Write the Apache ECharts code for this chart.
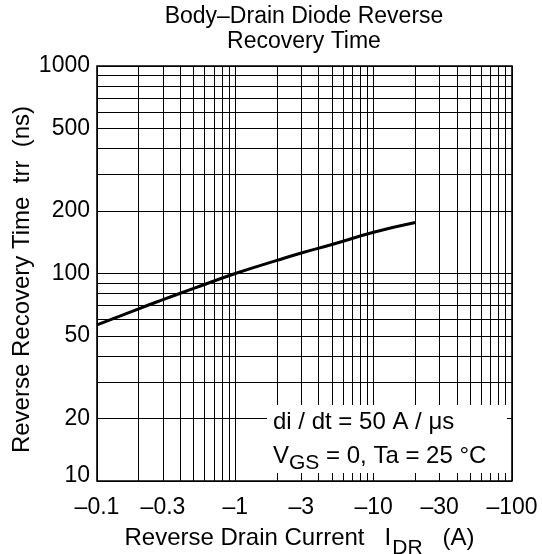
<!DOCTYPE html>
<html>
<head>
<meta charset="utf-8">
<script src="https://cdn.jsdelivr.net/npm/echarts@6/dist/echarts.min.js"></script>
<style>
  html, body { margin: 0; padding: 0; background: #fff; }
  #chart { width: 542px; height: 554px; }
</style>
</head>
<body>
<div id="chart"></div>
<script>
// Body–drain diode reverse recovery time vs. reverse drain current
const currentA = [-0.1, -0.2, -0.3, -0.5, -1, -2, -3, -5, -10, -20];
const trrNs = [56.5, 67.6, 74.8, 84.7, 100, 115.7, 125.6, 138, 158, 176];

// Labelled ticks
const xTickValues = [-0.1, -0.3, -1, -3, -10, -30, -100];
const xTickLabels = ['–0.1', '–0.3', '–1', '–3', '–10', '–30', '–100'];
const yTickValues = [10, 20, 50, 100, 200, 500, 1000];
const yTickLabels = ['10', '20', '50', '100', '200', '500', '1000'];

// Log-paper grid: 1..9 in every decade
function decadeLines(lo, hi) {
  const out = [];
  for (let d = lo; d < hi; d *= 10) {
    for (let m = 1; m <= 9; m++) out.push(Number((m * d).toPrecision(3)));
  }
  out.push(hi);
  return out;
}
const xGrid = decadeLines(0.1, 100);
const yGrid = decadeLines(10, 1000);

const FONT = "'Liberation Sans', Arial, Helvetica, sans-serif";
const FS = 23;
const FS_NAME = 24;

const lineStyle = { color: '#000', width: 1, type: 'solid' };

const gridLineData = [];
xGrid.forEach(v => {
  const i = xTickValues.findIndex(t => Math.abs(Math.abs(t) - v) < 1e-9);
  const item = { xAxis: v };
  if (i >= 0) item.label = { show: true, position: 'start', formatter: xTickLabels[i], distance: 15 };
  gridLineData.push(item);
});
yGrid.forEach((v, k) => {
  const i = yTickValues.findIndex(t => Math.abs(t - v) < 1e-9);
  const item = { yAxis: v };
  if (i >= 0) {
    item.label = { show: true, position: 'start', formatter: yTickLabels[i], distance: 7 };
    // lowest label sits a little higher, clear of the current labels
    if (k === 0) item.label.offset = [0, -5];
  }
  gridLineData.push(item);
});

const chart = echarts.init(document.getElementById('chart'), null, { renderer: 'canvas' });

chart.setOption({
  animation: false,
  backgroundColor: '#fff',
  textStyle: { fontFamily: FONT, color: '#000' },
  title: {
    text: 'Body–Drain Diode Reverse\nRecovery Time',
    left: 304, top: 4, padding: 0, textAlign: 'center',
    textStyle: { fontFamily: FONT, fontSize: FS, fontWeight: 'normal', color: '#000', lineHeight: 25 }
  },
  grid: {
    left: 97, top: 66, right: 30, bottom: 73,
    outerBoundsMode: 'none',
    show: true, borderColor: '#000', borderWidth: 1.6, backgroundColor: '#fff'
  },
  xAxis: {
    type: 'log', logBase: 10, min: 0.1, max: 100,
    axisLine: { show: false }, axisTick: { show: false },
    axisLabel: { show: false }, splitLine: { show: false },
    name: '{a|Reverse Drain Current   I}{s|DR}{a|   (A)}',
    nameLocation: 'middle', nameGap: 37,
    nameTextStyle: {
      padding: [0, 10, 0, 0],
      rich: {
        a: { fontFamily: FONT, fontSize: FS_NAME, color: '#000' },
        s: { fontFamily: FONT, fontSize: 21, color: '#000', padding: [20, 0, 0, 1] }
      }
    }
  },
  yAxis: {
    type: 'log', logBase: 10, min: 10, max: 1000,
    axisLine: { show: false }, axisTick: { show: false },
    axisLabel: { show: false }, splitLine: { show: false },
    name: 'Reverse Recovery Time  trr  (ns)',
    nameLocation: 'middle', nameRotate: 90, nameGap: 63,
    nameTextStyle: { fontFamily: FONT, fontSize: FS_NAME, color: '#000', padding: [0, 12, 0, 0] }
  },
  series: [
    {
      // carrier for the log-paper grid and tick labels
      type: 'line',
      data: [[0.1, 10]],
      symbol: 'none',
      lineStyle: { opacity: 0 },
      z: 1,
      silent: true,
      markLine: {
        silent: true,
        symbol: ['none', 'none'],
        animation: false,
        lineStyle: lineStyle,
        emphasis: { disabled: true },
        label: { show: false, color: '#000', fontFamily: FONT, fontSize: FS },
        data: gridLineData
      }
    },
    {
      type: 'line',
      data: currentA.map((c, i) => [Math.abs(c), trrNs[i]]),
      smooth: true,
      symbol: 'none',
      z: 5,
      silent: true,
      lineStyle: { color: '#000', width: 3 }
    }
  ],
  graphic: [
    {
      type: 'rect', z: 100,
      shape: { x: 267, y: 405, width: 240, height: 68 },
      style: { fill: '#fff' }
    },
    {
      type: 'text', z: 101, left: 273, top: 410,
      style: { text: 'di / dt = 50 A / μs', font: '24px ' + FONT, fill: '#000' }
    },
    {
      type: 'text', z: 101, left: 273, top: 444,
      style: {
        text: '{a|V}{s|GS}{a| = 0, Ta = 25 °C}',
        fill: '#000',
        rich: {
          a: { fontFamily: FONT, fontSize: 24, fill: '#000' },
          s: { fontFamily: FONT, fontSize: 21, fill: '#000', padding: [15, 0, 0, 0] }
        }
      }
    }
  ]
});
</script>
</body>
</html>
